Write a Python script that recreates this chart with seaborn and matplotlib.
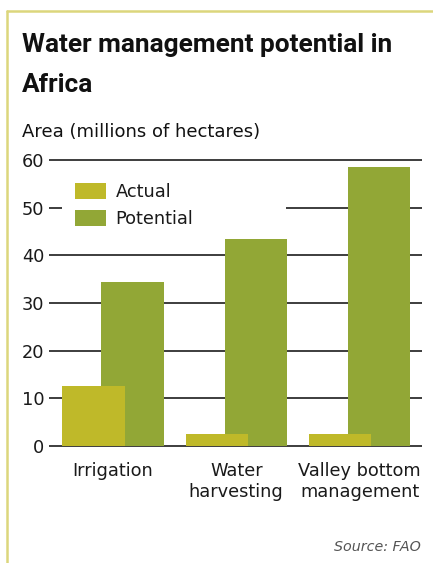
import matplotlib
matplotlib.use("Agg")
import matplotlib.pyplot as plt
from matplotlib.lines import Line2D
from matplotlib.patches import Rectangle
import seaborn as sns
import pandas as pd

categories = ["Irrigation", "Water\nharvesting", "Valley bottom\nmanagement"]
actual = [12.7, 2.6, 2.6]
potential = [34.5, 43.5, 58.5]
series_names = ["Actual", "Potential"]
y_ticks = [0, 10, 20, 30, 40, 50, 60]

COL_ACTUAL = "#bfb929"
COL_POTENTIAL = "#92a736"
FRAME = "#dcd67c"
GRID = "#2e2e2e"
INK = "#1a1a1a"
BODY = ["DejaVu Sans"]
TITLE = ["Roboto", "DejaVu Sans"]

sns.set_theme(style="white")
plt.rcParams["font.family"] = BODY

df = pd.DataFrame({
    "category": categories * 2,
    "series": [series_names[0]] * 3 + [series_names[1]] * 3,
    "value": actual + potential,
})

fig = plt.figure(figsize=(4.33, 5.63), dpi=100)
W, H = 433, 563
ax_left, ax_right = 49, 422
ax_bottom_px, ax_top_px = 449, 157
ax_h = ax_bottom_px - ax_top_px
ax = fig.add_axes([ax_left / W, 1 - ax_bottom_px / H,
                   (ax_right - ax_left) / W, ax_h / H])

sns.barplot(data=df, x="category", y="value", hue="series",
            hue_order=series_names, palette=[COL_ACTUAL, COL_POTENTIAL],
            width=0.634, gap=-0.59, dodge=True, saturation=1,
            edgecolor="none", linewidth=0, ax=ax, legend=True)

# actual bars sit in front of the potential bars
for bar in ax.containers[0]:
    bar.set_zorder(3)
for bar in ax.containers[1]:
    bar.set_zorder(2)

ax.set_ylim(-0.6, 60.6)
ax.set_xlim(-0.519, 2.507)
ax.set_yticks(y_ticks)
ax.set_yticklabels([str(t) for t in y_ticks])
for y in y_ticks:
    ax.axhline(y, color=GRID, lw=1.3, zorder=1)
for s in ax.spines.values():
    s.set_visible(False)
ax.tick_params(axis="y", length=0, pad=3.5, labelsize=12.8, colors=INK)
ax.tick_params(axis="x", length=0, pad=9, labelsize=12.8, colors=INK)
for lbl in ax.get_xticklabels():
    lbl.set_linespacing(1.25)
ax.set_xlabel("")
ax.set_ylabel("")

# white panel behind the legend
ax.add_patch(Rectangle(((62 - ax_left) / 373, (ax_bottom_px - 238) / ax_h),
                       (286 - 62) / 373, 63 / ax_h, transform=ax.transAxes,
                       facecolor="white", edgecolor="none", zorder=1.5))

leg = ax.legend(loc="upper left",
                bbox_to_anchor=((75 - ax_left) / 373, (ax_bottom_px - 183) / ax_h),
                frameon=False, fontsize=12.8, handlelength=1.74,
                handleheight=0.95, handletextpad=0.55, labelspacing=0.52,
                borderpad=0, borderaxespad=0)
leg.set_zorder(5)
for t in leg.get_texts():
    t.set_color(INK)

fig.text(22 / W, 1 - 52 / H, "Water management potential in",
         fontsize=18.9, fontweight="bold", color="#111111", family=TITLE,
         ha="left", va="baseline")
fig.text(22 / W, 1 - 92 / H, "Africa",
         fontsize=18.9, fontweight="bold", color="#111111", family=TITLE,
         ha="left", va="baseline")
fig.text(22 / W, 1 - 137 / H, "Area (millions of hectares)",
         fontsize=13, color="#111111", ha="left", va="baseline")
fig.text(421 / W, 1 - 551 / H, "Source: FAO", fontsize=10.3,
         style="italic", color="#555555", ha="right", va="baseline")

# yellow frame along the top and left edges
fig.add_artist(Line2D([6.5 / W, 1], [1 - 11 / H, 1 - 11 / H],
                      transform=fig.transFigure, color=FRAME, lw=1.8))
fig.add_artist(Line2D([6.5 / W, 6.5 / W], [1 - 11 / H, 0],
                      transform=fig.transFigure, color=FRAME, lw=1.8))

fig.savefig("out.png", dpi=100, facecolor="white")
